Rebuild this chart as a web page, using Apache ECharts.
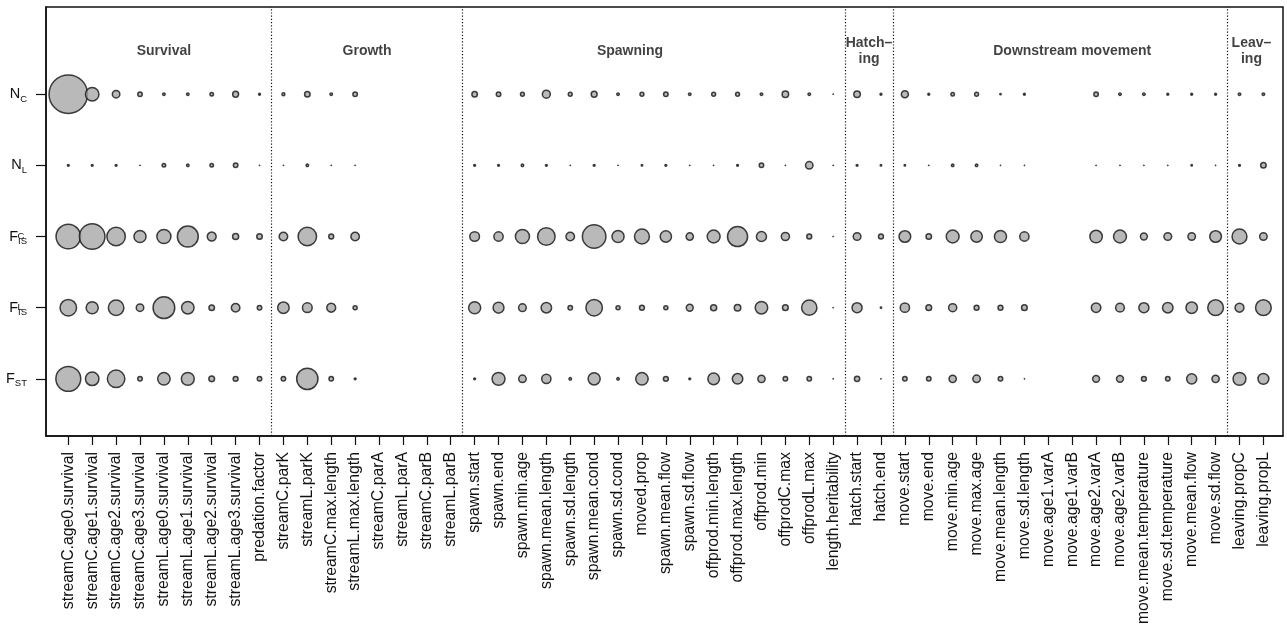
<!DOCTYPE html>
<html>
<head>
<meta charset="utf-8">
<title>Parameter sensitivity</title>
<script src="https://cdn.jsdelivr.net/npm/echarts@6/dist/echarts.min.js"></script>
<style>
  html, body { margin: 0; padding: 0; background: #ffffff; }
  #chart { width: 1287px; height: 626px; }
</style>
</head>
<body>
<div id="chart"></div>
<script>
// Model parameters (x axis), in plotting order
const categories = [
  'streamC.age0.survival', 'streamC.age1.survival', 'streamC.age2.survival', 'streamC.age3.survival',
  'streamL.age0.survival', 'streamL.age1.survival', 'streamL.age2.survival', 'streamL.age3.survival',
  'predation.factor',
  'streamC.parK', 'streamL.parK', 'streamC.max.length', 'streamL.max.length',
  'streamC.parA', 'streamL.parA', 'streamC.parB', 'streamL.parB',
  'spawn.start', 'spawn.end', 'spawn.min.age', 'spawn.mean.length', 'spawn.sd.length',
  'spawn.mean.cond', 'spawn.sd.cond', 'moved.prop', 'spawn.mean.flow', 'spawn.sd.flow',
  'offprod.min.length', 'offprod.max.length', 'offprod.min', 'offprodC.max', 'offprodL.max',
  'length.heritability',
  'hatch.start', 'hatch.end',
  'move.start', 'move.end', 'move.min.age', 'move.max.age', 'move.mean.length', 'move.sd.length',
  'move.age1.varA', 'move.age1.varB', 'move.age2.varA', 'move.age2.varB',
  'move.mean.temperature', 'move.sd.temperature', 'move.mean.flow', 'move.sd.flow',
  'leaving.propC', 'leaving.propL'
];

// Parameter groups: titles, centre (in parameter units) and separators
const groupNames   = ['Survival', 'Growth', 'Spawning', 'Hatch\u2013\ning', 'Downstream movement', 'Leav\u2013\ning'];
const groupCentres = [5, 13.5, 24.5, 34.5, 43, 50.5];
const groupBreaks  = [9.5, 17.5, 33.5, 35.5, 49.5];

// Relative sensitivity of each output to each parameter (null = not tested)
const nC = [100, 37.5, 22.5, 15, 10, 10, 12.5, 18.5, 8.5,
  11, 17.5, 10, 15, null, null, null, null,
  17.5, 15, 13.5, 23.5, 13.5, 18.5, 10, 13.5, 15, 10, 13.5, 13.5, 10, 20, 10, 5,
  20, 8.5,
  21.5, 8.5, 12.5, 13.5, 7, 8.5, null, null, 15, 10, 10, 8.5, 8.5, 8.5,
  10, 10];
const nL = [8.5, 8.5, 8.5, 5, 12.5, 10, 12.5, 15, 5,
  5, 10, 5, 5, null, null, null, null,
  8.5, 8.5, 10, 8.5, 5, 8.5, 5, 7.5, 8.5, 5, 5, 8.5, 15, 5, 22.5, 5,
  8.5, 7.5,
  7.5, 5, 10, 10, 5, 5, null, null, 5, 5, 5, 5, 7.5, 5,
  8.5, 17.5];
const fisC = [65, 67.5, 50, 34, 39, 56, 26, 19, 17.5,
  25, 50, 16, 25, null, null, null, null,
  28, 27, 39, 47.5, 25, 62.5, 34, 41, 32, 22, 36, 54, 29, 24, 16, 5,
  23, 16,
  33, 17.5, 36, 32.5, 34, 27, null, null, 35, 36, 21, 23, 22.5, 33,
  41, 22.5];
const fisL = [45, 34, 42.5, 22.5, 58, 35, 17.5, 25, 15,
  32.5, 28, 26, 14, null, null, null, null,
  34, 31, 23, 30, 15, 45, 14, 16, 14, 21, 19, 20, 35, 18, 42, 5,
  29, 7,
  27, 18, 24, 16, 16, 18, null, null, 27.5, 25.5, 29, 30, 32.5, 43,
  26, 43];
const fST = [66, 37.5, 47.5, 15, 35, 36, 18, 16, 15,
  15, 57, 15, 8.5, null, null, null, null,
  8.5, 36, 22.5, 27, 10, 34, 10, 35, 16, 8.5, 33, 30, 22, 15, 15, 5,
  17, 5,
  15, 15, 22, 22.5, 15, 5, null, null, 21, 21, 16, 15, 29, 22,
  36, 31];

// Output statistics (y axis), top to bottom
const rowValues = [nC, nL, fisC, fisL, fST];
const rowLevels = [5, 4, 3, 2, 1];
const rowLabels = {
  5: '{m|N}{s|C}',
  4: '{m|N}{s|L}',
  3: '{m|F}{s|IS}',
  2: '{m|F}{s|IS}',
  1: '{m|F}{s|ST}'
};
const rowSuperscripts = { 3: 'C', 2: 'L' };

// ---- layout / styling ----
const FONT = "'Liberation Sans', Arial, Helvetica, sans-serif";
const INK = '#111111';
const FILL = '#a8a8a8';
const SIZE_PER_UNIT = 0.4;   // outer circle diameter per unit of sensitivity
const GROUP_TITLE_LEVEL = 5.6;
const X_MIN = 0.067, X_MAX = 51.82;
const Y_MIN = 0.197, Y_MAX = 6.225;

function bubble(x, y, v) {
  const d = v * SIZE_PER_UNIT;
  let bw, s;
  if (d >= 3.5) { bw = 1.5; s = d - bw; }
  else { bw = d / 2; s = d / 2; }   // very small circles collapse to a solid dot
  return {
    value: [x, y, v],
    symbolSize: s,
    itemStyle: { color: FILL, borderColor: INK, borderWidth: bw }
  };
}

const bubbleData = [];
for (let i = 0; i < categories.length; i++) {
  for (let r = 0; r < rowValues.length; r++) {
    const v = rowValues[r][i];
    if (v !== null && v !== undefined) bubbleData.push(bubble(i + 1, rowLevels[r], v));
  }
}
// draw in parameter order so later circles overlap earlier ones
bubbleData.sort((a, b) => a.value[0] - b.value[0] || b.value[1] - a.value[1]);

const tickPositions = categories.map((_, i) => i + 1);

const chart = echarts.init(document.getElementById('chart'), null, { renderer: 'canvas' });

chart.setOption({
  animation: false,
  backgroundColor: '#ffffff',
  textStyle: { fontFamily: FONT, color: INK },
  grid: {
    left: 46, right: 4, top: 7, bottom: 190,
    outerBoundsMode: 'none',
    containLabel: false,
    show: true, borderColor: INK, borderWidth: 1.5, backgroundColor: 'transparent'
  },
  xAxis: {
    type: 'value',
    min: X_MIN, max: X_MAX,
    splitLine: { show: false },
    axisLine: { show: true, onZero: false, lineStyle: { color: INK, width: 1.5 } },
    axisTick: { show: true, length: 9, customValues: tickPositions, lineStyle: { color: INK, width: 1.2 } },
    axisLabel: {
      show: true,
      customValues: tickPositions,
      rotate: 90,
      margin: 16,
      fontFamily: FONT,
      fontSize: 15.8,
      color: INK,
      formatter: (v) => categories[Math.round(v) - 1] || ''
    }
  },
  yAxis: [
    {
      type: 'value',
      min: Y_MIN, max: Y_MAX,
      splitLine: { show: false },
      axisLine: { show: true, onZero: false, lineStyle: { color: INK, width: 1.5 } },
      axisTick: { show: true, length: 10, customValues: rowLevels, lineStyle: { color: INK, width: 1.2 } },
      axisLabel: {
        show: true,
        customValues: rowLevels,
        margin: 19,
        formatter: (v) => rowLabels[Math.round(v)] || '',
        rich: {
          m: { fontFamily: FONT, fontSize: 14.5, color: INK, lineHeight: 20 },
          s: { fontFamily: FONT, fontSize: 9.5, color: INK, lineHeight: 13, verticalAlign: 'bottom' }
        }
      }
    },
    {
      type: 'value',
      position: 'left',
      min: Y_MIN, max: Y_MAX,
      splitLine: { show: false },
      axisLine: { show: false },
      axisTick: { show: false },
      axisLabel: {
        show: true,
        customValues: [3, 2],
        margin: 28.5,
        align: 'left',
        padding: [0, 0, 10, 0],
        fontFamily: FONT,
        fontSize: 9.5,
        color: INK,
        formatter: (v) => rowSuperscripts[Math.round(v)] || ''
      }
    }
  ],
  series: [
    {
      name: 'sensitivity',
      type: 'scatter',
      xAxisIndex: 0,
      yAxisIndex: 0,
      symbol: 'circle',
      silent: true,
      data: bubbleData,
      markLine: {
        silent: true,
        symbol: ['none', 'none'],
        label: { show: false },
        lineStyle: { color: INK, width: 1.2, type: [1.2, 2] },
        data: groupBreaks.map((x) => ({ xAxis: x }))
      }
    },
    {
      name: 'groups',
      type: 'scatter',
      xAxisIndex: 0,
      yAxisIndex: 0,
      symbolSize: 0,
      silent: true,
      data: groupCentres.map((x, i) => ({ value: [x, GROUP_TITLE_LEVEL], name: groupNames[i] })),
      label: {
        show: true,
        position: 'inside',
        formatter: (p) => p.name,
        fontFamily: FONT,
        fontWeight: 'bold',
        fontSize: 14,
        lineHeight: 16,
        color: INK
      }
    }
  ]
});
</script>
</body>
</html>
